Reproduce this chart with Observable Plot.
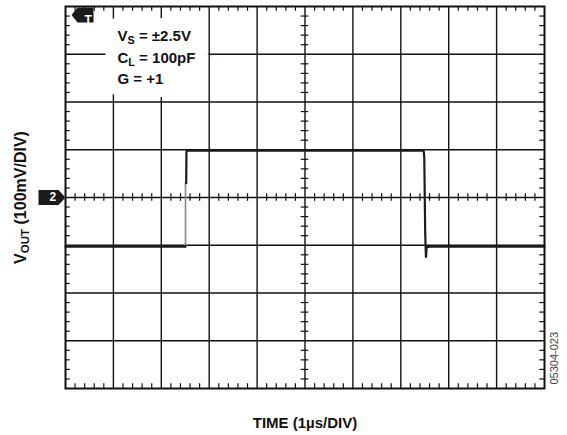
<!DOCTYPE html>
<html>
<head>
<meta charset="utf-8">
<script src="https://cdn.jsdelivr.net/npm/d3@7"></script>
<script src="https://cdn.jsdelivr.net/npm/@observablehq/plot@0.6"></script>
<style>
  html, body { margin: 0; padding: 0; background: #fff; }
  #chart svg { display: block; }
</style>
</head>
<body>
<div id="chart"></div>
<script>
// --- data (time in µs, output in mV) ---
const majorX = [0, 1, 2, 3, 4, 5, 6, 7, 8, 9, 10];            // 1 µs/DIV
const majorY = [-400, -300, -200, -100, 0, 100, 200, 300, 400]; // 100 mV/DIV
const traceTime = [0, 2.505, 2.505, 2.52, 2.525, 2.55, 7.47, 7.48, 7.49, 7.51, 7.525, 7.54, 7.6, 10];
const traceMv   = [-103, -103, NaN, 30, 97, 98, 98, 96, 84, -77, -126, -104, -103, -103];
const edgeTime  = [2.505, 2.505];
const edgeMv    = [-103, 30];
const noteLines = ["V_S = ±2.5V", "C_L = 100pF", "G = +1"];
const yLabel = "V_OUT (100mV/DIV)";
const xLabel = "TIME (1µs/DIV)";
const figCode = "05304-023";

const trace = traceTime.map((t, i) => ({t, v: traceMv[i]}));
const edge = edgeTime.map((t, i) => ({t, v: edgeMv[i]}));
const minorX = d3.range(0, 10.001, 0.2).filter(d => Math.abs(d - Math.round(d)) > 1e-6);
const minorY = d3.range(-400, 400.001, 20).filter(d => Math.abs(d % 100) > 1e-6);
const innerX = majorX.slice(1, -1);
const innerY = majorY.slice(1, -1);

const leftArrow = {draw(ctx) { ctx.moveTo(-11, 0); ctx.lineTo(-5, -7.5); ctx.lineTo(11, -7.5); ctx.lineTo(11, 7.5); ctx.lineTo(-5, 7.5); ctx.closePath(); }};
const rightArrow = {draw(ctx) { ctx.moveTo(-13.5, -7.5); ctx.lineTo(6.5, -7.5); ctx.lineTo(13.5, 0); ctx.lineTo(6.5, 7.5); ctx.lineTo(-13.5, 7.5); ctx.closePath(); }};

const ink = "#111";
const font = "'Liberation Sans', Arial, Helvetica, sans-serif";

const noteOpts = i => ({frameAnchor: "top-left", dx: 52, dy: 24 + 21.5 * i, textAnchor: "start", lineAnchor: "top",
                        fontSize: 15, fontWeight: "bold"});
const noteMarks = [
  ...noteLines.map((s, i) => Plot.text([s], {...noteOpts(i), fill: "#fff", stroke: "#fff", strokeWidth: 26, strokeLinejoin: "round"})),
  ...noteLines.map((s, i) => Plot.text([s], {...noteOpts(i), fill: ink}))
];

const plot = Plot.plot({
  width: 567,
  height: 435,
  marginTop: 6,
  marginBottom: 47,
  marginLeft: 65,
  marginRight: 23,
  style: {fontFamily: font, background: "#fff", overflow: "visible"},
  x: {domain: [0, 10], axis: null},
  y: {domain: [-400, 400], axis: null},
  marks: [
    // major grid
    Plot.ruleX(innerX, {stroke: ink, strokeWidth: 1.4}),
    Plot.ruleY(innerY, {stroke: ink, strokeWidth: 1.4}),
    // minor ticks on centre cross-hairs
    Plot.ruleX(minorX, {x: d => d, y1: -8, y2: 8, stroke: ink, strokeWidth: 1.2}),
    Plot.ruleY(minorY, {y: d => d, x1: 4.92, x2: 5.08, stroke: ink, strokeWidth: 1.2}),
    // minor ticks along the frame edges (inward)
    Plot.ruleX(minorX, {x: d => d, y1: -400, y2: -390, stroke: ink, strokeWidth: 1.2}),
    Plot.ruleX(minorX, {x: d => d, y1: 390, y2: 400, stroke: ink, strokeWidth: 1.2}),
    Plot.ruleY(minorY, {y: d => d, x1: 0, x2: 0.1, stroke: ink, strokeWidth: 1.2}),
    Plot.ruleY(minorY, {y: d => d, x1: 9.9, x2: 10, stroke: ink, strokeWidth: 1.2}),
    Plot.frame({stroke: ink, strokeWidth: 2}),
    // annotation block with white knock-out
    ...noteMarks,
    // signal trace
    Plot.line(edge, {x: "t", y: "v", stroke: "#888", strokeWidth: 1.6}),
    Plot.line(trace, {x: "t", y: "v", stroke: "#1c1c1c", strokeWidth: 2.2, strokeLinejoin: "miter"}),
    // trigger marker "T"
    Plot.dot([0], {frameAnchor: "top-left", dx: 17, dy: 8.5, symbol: leftArrow, fill: "#1a1a1a", stroke: "none"}),
    Plot.text(["T"], {frameAnchor: "top-left", dx: 19, dy: 8.5, fill: "#fff", fontSize: 12, fontWeight: "bold"}),
    // channel marker "2"
    Plot.dot([0], {y: d => d, frameAnchor: "left", dx: -13.5, symbol: rightArrow, fill: "#1a1a1a", stroke: "none"}),
    Plot.text([0], {y: d => d, text: () => "2", frameAnchor: "left", dx: -16, fill: "#fff", fontSize: 12, fontWeight: "bold"}),
    // axis titles
    Plot.text([yLabel], {frameAnchor: "left", dx: -45, rotate: -90, textAnchor: "start", fontSize: 16, fontWeight: "bold", fill: ink}),
    Plot.text([xLabel], {frameAnchor: "bottom", dy: 39, fontSize: 15, fontWeight: "bold", fill: ink}),
    Plot.text([figCode], {frameAnchor: "bottom-right", dx: 13, dy: -4, rotate: -90, textAnchor: "start", fontSize: 11, fill: "#444"})
  ]
});

document.getElementById("chart").append(plot);

// subscripts: "X_SUB rest" -> X<sub>SUB</sub> rest
const ns = "http://www.w3.org/2000/svg";
d3.select(plot).selectAll("text").each(function() {
  const el = this;
  const txt = el.textContent;
  const m = txt.match(/^([^_]*)_([A-Za-z]+)(.*)$/);
  if (!m) return;
  el.textContent = "";
  const a = document.createElementNS(ns, "tspan"); a.textContent = m[1];
  const b = document.createElementNS(ns, "tspan"); b.textContent = m[2];
  b.setAttribute("font-size", "72%");
  b.style.baselineShift = "-3px";
  const c = document.createElementNS(ns, "tspan"); c.textContent = m[3];
  el.append(a, b, c);
  if (txt === yLabel) {
    // centre the rotated title on the frame (it is start-anchored)
    const w = el.getComputedTextLength();
    el.setAttribute("x", -w / 2);
  }
});
</script>
</body>
</html>
